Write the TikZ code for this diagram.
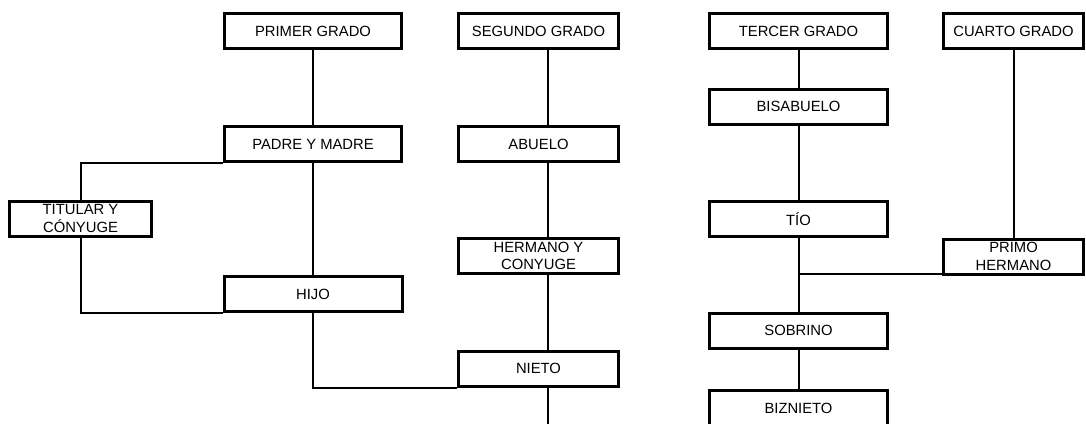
\documentclass[tikz,border=0pt]{standalone}
\usepackage{fontspec}
\setmainfont{Liberation Sans}

\begin{document}
\begin{tikzpicture}[x=1pt,y=-1pt,
  kin/.style={draw, line width=3pt, inner sep=0pt, minimum height=35pt,
    align=center, font=\fontsize{14.8}{17.5}\selectfont},
  link/.style={line width=2pt}]

% Fix the page
\useasboundingbox (0,0) rectangle (1086,423);
\clip (0,0) rectangle (1086,423);

% Degree headers
\node[kin, minimum width=177pt] (p1) at (313,31) {PRIMER GRADO};
\node[kin, minimum width=160pt] (s2) at (538.5,31) {SEGUNDO GRADO};
\node[kin, minimum width=178pt] (t3) at (798.5,31) {TERCER GRADO};
\node[kin, minimum width=140pt] (c4) at (1013.5,31) {CUARTO GRADO};

% First degree
\node[kin, minimum width=177pt] (padre) at (313,144) {PADRE Y MADRE};
\node[kin, minimum width=142pt] (titular) at (80.5,218.5) {TITULAR Y\\CÓNYUGE};
\node[kin, minimum width=178pt] (hijo) at (313,294) {HIJO};

% Second degree
\node[kin, minimum width=160pt] (abuelo) at (538.5,144) {ABUELO};
\node[kin, minimum width=160pt] (hermano) at (538.5,256) {HERMANO Y\\CONYUGE};
\node[kin, minimum width=160pt] (nieto) at (538.5,368.5) {NIETO};
\coordinate (nietoend) at (548,430);

% Third and fourth degree
\node[kin, minimum width=178pt] (bisabuelo) at (798.5,106.5) {BISABUELO};
\node[kin, minimum width=178pt] (tio) at (798.5,219) {TÍO};
\node[kin, minimum width=178pt] (sobrino) at (798.5,330.5) {SOBRINO};
\node[kin, minimum width=178pt] (biznieto) at (798.5,408) {BIZNIETO};
\node[kin, minimum width=140pt] (primo) at (1013.5,256.5) {PRIMO\\HERMANO};

% Straight links
\foreach \a/\b in {p1/padre, padre/hijo, t3/bisabuelo, bisabuelo/tio,
                   tio/sobrino, sobrino/biznieto, c4/primo}
  \draw[link] (\a.south) -- (\b.north);

% Middle column runs right of centre
\foreach \a/\b in {s2/abuelo, abuelo/hermano, hermano/nieto}
  \draw[link] ([xshift=9.5pt]\a.south) -- ([xshift=9.5pt]\b.north);
\draw[link] ([xshift=9.5pt]nieto.south) -- (nietoend);

% Elbow links
\draw[link] (padre.south west) -| (titular.north);
\draw[link] (titular.south) |- (hijo.south west);
\draw[link] (hijo.south) |- (nieto.south west);
\draw[link] ([yshift=2pt]primo.south west) -| (tio.south);

\end{tikzpicture}
\end{document}
